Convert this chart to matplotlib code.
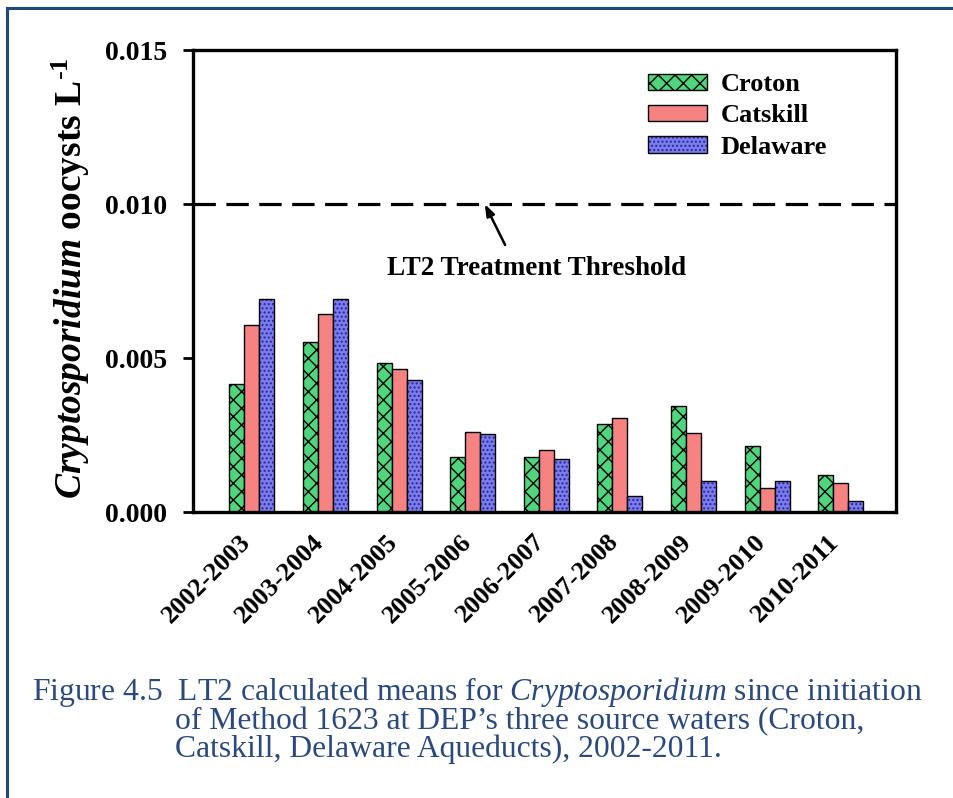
import numpy as np
import matplotlib
matplotlib.use("Agg")
import matplotlib.pyplot as plt
from matplotlib.lines import Line2D
from matplotlib.legend_handler import HandlerTuple
from matplotlib.transforms import ScaledTranslation

# ---------------- data ----------------
periods = ["2002-2003", "2003-2004", "2004-2005", "2005-2006", "2006-2007",
           "2007-2008", "2008-2009", "2009-2010", "2010-2011"]
croton = [0.00416, 0.00551, 0.00484, 0.00180, 0.00180, 0.00286, 0.00345, 0.00214, 0.00120]
catskill = [0.00607, 0.00642, 0.00464, 0.00259, 0.00200, 0.00306, 0.00257, 0.00079, 0.00093]
delaware = [0.00692, 0.00692, 0.00429, 0.00253, 0.00171, 0.00051, 0.00100, 0.00100, 0.00036]
series_names = ["Croton", "Catskill", "Delaware"]
threshold = 0.010
threshold_label = "LT2 Treatment Threshold"
yticks = [0.000, 0.005, 0.010, 0.015]
ytick_labels = ["0.000", "0.005", "0.010", "0.015"]
caption_lines = [
    "Figure 4.5  LT2 calculated means for $\\mathit{Cryptosporidium}$ since initiation",
    "of Method 1623 at DEP\u2019s three source waters (Croton,",
    "Catskill, Delaware Aqueducts), 2002-2011.",
]

# ---------------- style ----------------
plt.rcParams["font.family"] = ["Liberation Serif", "DejaVu Serif"]
plt.rcParams["mathtext.fontset"] = "custom"
plt.rcParams["mathtext.rm"] = "Liberation Serif"
plt.rcParams["mathtext.it"] = "Liberation Serif:italic"
plt.rcParams["mathtext.bf"] = "Liberation Serif:bold"
plt.rcParams["mathtext.bfit"] = "Liberation Serif:italic:bold"
plt.rcParams["hatch.linewidth"] = 1.0

green = "#4FD67C"
salmon = "#F68282"
blue = "#7C7CF2"
dotcol = "#2A2A8A"
capcol = "#2A4A7F"

W, H = 954, 798
fig = plt.figure(figsize=(W / 100, H / 100), dpi=100)
ax = fig.add_axes([193 / W, 1 - 512 / H, (896 - 193) / W, (512 - 50) / H])

x = np.arange(len(periods))
w = 0.204
b1 = ax.bar(x - w, croton, w, facecolor=green, edgecolor="black", hatch="xx", linewidth=1.0, zorder=2)
b2 = ax.bar(x, catskill, w, facecolor=salmon, edgecolor="black", linewidth=1.0, zorder=2)
b3 = ax.bar(x + w, delaware, w, facecolor=blue, edgecolor=dotcol, hatch="....", linewidth=0, zorder=2)
b3o = ax.bar(x + w, delaware, w, fill=False, edgecolor="black", linewidth=1.0, zorder=3)

ax.axhline(threshold, color="black", lw=2.3, linestyle=(0, (7.0, 3.3)), zorder=1)

ax.set_xlim(-0.80, 8.75)
ax.set_ylim(0, 0.015)
ax.set_yticks(yticks)
ax.set_yticklabels(ytick_labels, fontsize=20, fontweight="bold")
ax.set_xticks(x)
ax.set_xticklabels(periods, rotation=45, ha="right", va="top", fontsize=19, fontweight="bold")
ax.tick_params(axis="y", direction="out", length=7.5, width=2, pad=11)
ax.tick_params(axis="x", length=0, pad=13)
shift = ScaledTranslation(3 / 100, 0, fig.dpi_scale_trans)
for lbl in ax.get_xticklabels():
    lbl.set_transform(lbl.get_transform() + shift)
for s in ax.spines.values():
    s.set_linewidth(2.4)

ax.set_ylabel(r"$\mathbfit{Cryptosporidium}$ oocysts L$^{\mathbf{\text{-}1}}$", fontsize=27, fontweight="bold")
ax.yaxis.set_label_coords(-0.143, 0.506)

# threshold annotation
ax.annotate("", xy=(0.415, threshold), xycoords=("axes fraction", "data"),
            xytext=(0.444, 0.578), textcoords="axes fraction",
            arrowprops=dict(arrowstyle="-|>,head_length=0.7,head_width=0.25", lw=1.8, color="black",
                            facecolor="white", shrinkA=0, shrinkB=0))
ax.text(0.489, 0.528, threshold_label, transform=ax.transAxes, ha="center", va="center",
        fontsize=19.5, fontweight="bold")

handles = [b1[0], b2[0], (b3[0], b3o[0])]
ax.legend(handles, series_names, loc="upper left", bbox_to_anchor=(648 / W, 1 - 73 / H),
          bbox_transform=fig.transFigure, frameon=False, prop=dict(size=19, weight="bold"),
          handlelength=2.25, handleheight=0.57, handletextpad=0.5, labelspacing=0.32,
          borderpad=0, borderaxespad=0, handler_map={tuple: HandlerTuple(ndivide=1)})

# caption
fs_cap = 22.8
fig.text(32 / W, 1 - 700 / H, caption_lines[0], fontsize=fs_cap, color=capcol, va="baseline", ha="left")
fig.text(175 / W, 1 - 729 / H, caption_lines[1], fontsize=fs_cap, color=capcol, va="baseline", ha="left")
fig.text(175 / W, 1 - 757 / H, caption_lines[2], fontsize=fs_cap, color=capcol, va="baseline", ha="left")

# frame lines (left and top)
bcol = "#1F497D"
fig.add_artist(Line2D([7 / W, 7 / W], [0, 1 - 8 / H], transform=fig.transFigure, color=bcol, lw=2.2))
fig.add_artist(Line2D([7 / W, 1], [1 - 8 / H, 1 - 8 / H], transform=fig.transFigure, color=bcol, lw=2.2))

fig.savefig("out.png", dpi=100)
